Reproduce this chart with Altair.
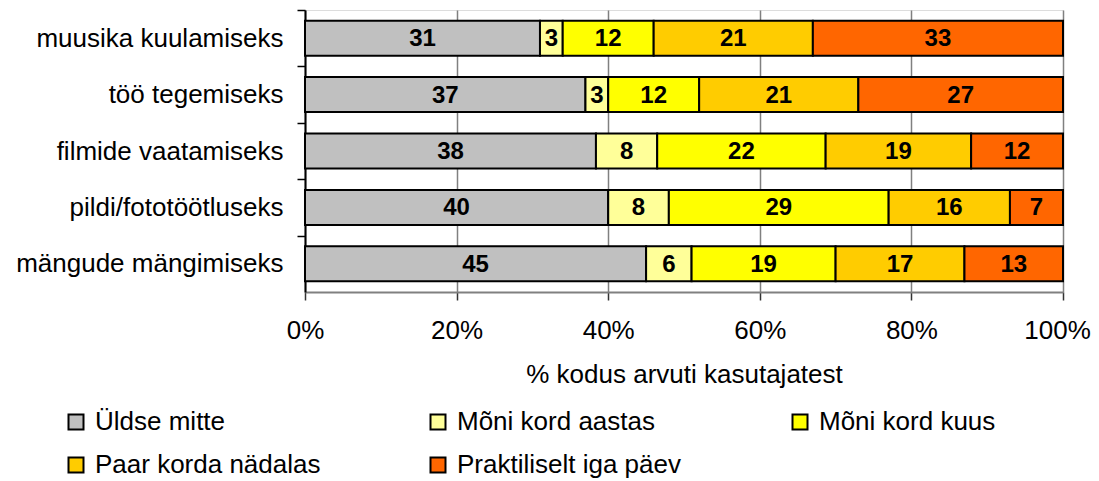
import altair as alt
import pandas as pd

categories = ["muusika kuulamiseks", "töö tegemiseks", "filmide vaatamiseks",
              "pildi/fototöötluseks", "mängude mängimiseks"]
series = ["Üldse mitte", "Mõni kord aastas", "Mõni kord kuus",
          "Paar korda nädalas", "Praktiliselt iga päev"]
colors = ["#C0C0C0", "#FFFF99", "#FFFF00", "#FFCC00", "#FF6600"]
s_uldse = [31, 37, 38, 40, 45]
s_aastas = [3, 3, 8, 8, 6]
s_kuus = [12, 12, 22, 29, 19]
s_nadalas = [21, 21, 19, 16, 17]
s_paev = [33, 27, 12, 7, 13]

values = [s_uldse, s_aastas, s_kuus, s_nadalas, s_paev]
rows = []
for si, (name, vals) in enumerate(zip(series, values)):
    for ci, cat in enumerate(categories):
        rows.append({"cat": cat, "series": name, "order": si, "value": vals[ci]})
df = pd.DataFrame(rows)

FONT = "Liberation Sans"
FS = 26

base = alt.Chart(df).transform_stack(
    stack="value", groupby=["cat"], as_=["x0", "x1"], offset="normalize",
    sort=[alt.SortField("order", order="ascending")]
).transform_calculate(mid="(datum.x0 + datum.x1) / 2")

y_enc = alt.Y(
    "cat:N", sort=categories, title=None,
    scale=alt.Scale(paddingInner=0.38, paddingOuter=0.19),
    axis=alt.Axis(labelFont=FONT, labelFontSize=FS, labelColor="black",
                  labelLimit=500,
                  tickSize=8, tickColor="black", tickWidth=1.5,
                  domainColor="black", domainWidth=2,
                  tickOffset=-28.2, labelOffset=28.2, labelPadding=14,
                  grid=False),
)

bars = base.mark_bar(stroke="black", strokeWidth=2).encode(
    y=y_enc,
    x=alt.X("x0:Q", scale=alt.Scale(domain=[0, 1]),
            title="% kodus arvuti kasutajatest",
            axis=alt.Axis(format="%", values=[0, 0.2, 0.4, 0.6, 0.8, 1.0],
                          labelFont=FONT, labelFontSize=FS, labelColor="black",
                          labelOffset={"condition": {"test": "datum.value >= 1", "value": -6},
                                       "value": 0},
                          labelPadding=17, tickSize=8, tickColor="#333",
                          tickWidth=1.5, domainColor="#808080", domainWidth=2,
                          grid=True, gridColor="#808080", gridWidth=1.5,
                          titleFont=FONT, titleFontSize=FS, titleFontWeight="normal",
                          titleColor="black", titlePadding=18,
                          labelFlush=False)),
    x2="x1:Q",
    color=alt.Color("series:N", sort=series,
                    scale=alt.Scale(domain=series, range=colors),
                    legend=alt.Legend(
                        title=None, orient="none", legendX=-242, legendY=399,
                        direction="horizontal",
                        columns=3, gridAlign="all", columnPadding=104,
                        rowPadding=17, symbolType="square", symbolSize=225,
                        symbolStrokeColor="black", symbolStrokeWidth=2,
                        symbolOpacity=1,
                        labelFont=FONT, labelFontSize=FS, labelColor="black",
                        labelOffset=6, labelLimit=500)),
    order=alt.Order("order:Q"),
)

labels = base.mark_text(font=FONT, fontSize=24, fontWeight="bold",
                        color="black", baseline="middle", dy=1).encode(
    y=alt.Y("cat:N", sort=categories),
    x=alt.X("mid:Q"),
    text=alt.Text("value:Q"),
)

chart = alt.layer(bars, labels).properties(
    width=758, height=282,
    autosize=alt.AutoSizeParams(type="none"),
    padding={"left": 297, "top": 2, "right": 28, "bottom": 186},
).configure_view(stroke="#808080", strokeWidth=2).configure(background="white")

chart.save("out.html", embed_options={"renderer": "svg", "actions": False})
